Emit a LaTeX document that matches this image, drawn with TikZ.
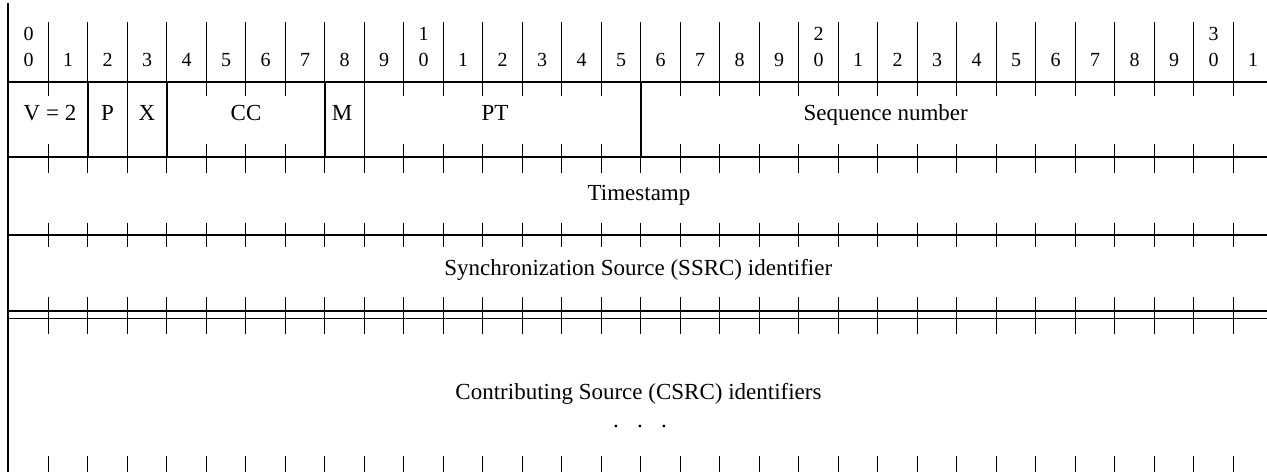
\documentclass[tikz,border=0pt]{standalone}
\usepackage{fontspec}
\setmainfont{Liberation Serif}
\begin{document}
\begin{tikzpicture}[x=1pt,y=-1pt,
  hline/.style={line width=1.4pt},
  fieldsep/.style={line width=1.4pt},
  tick/.style={line width=0.9pt},
  lbl/.style={font=\fontsize{23}{27}\selectfont, anchor=base, inner sep=0pt},
  hdr/.style={font=\fontsize{20}{24}\selectfont, anchor=base, inner sep=0pt}]
\useasboundingbox (0,0) rectangle (1267,472);
% left border
\draw[line width=1.6pt] (8,3) -- (8,472);
% horizontal lines
\foreach \yy in {82,157,235,311,318.7}
  \draw[hline] (8,\yy) -- (1267,\yy);
% header separators and digits
\foreach \k in {1,...,31}{
  \pgfmathsetmacro\xx{8.8+39.5*\k}
  \draw[tick] (\xx,22) -- (\xx,82);
}
\foreach \k in {0,...,31}{
  \pgfmathsetmacro\xc{8.8+39.5*(\k+0.5)}
  \pgfmathtruncatemacro\lo{mod(\k,10)}
  \node[hdr] (h\k) at (\xc,66.7) {\lo};
}
\foreach \k/\d in {0/0,10/1,20/2,30/3}{
  \pgfmathsetmacro\xc{8.8+39.5*(\k+0.5)}
  \node[hdr] (t\k) at (\xc,40.7) {\d};
}
% row 1 field separators
\foreach \k in {2,3,4,8,9,16}{
  \pgfmathsetmacro\xx{8.8+39.5*\k}
  \draw[fieldsep] (\xx,82) -- (\xx,157);
  \draw[tick] (\xx,157) -- (\xx,172.7);
}
% row 1 ticks
\foreach \k in {1,5,6,7,10,11,12,13,14,15,17,18,19,20,21,22,23,24,25,26,27,28,29,30,31}{
  \pgfmathsetmacro\xx{8.8+39.5*\k}
  \draw[tick] (\xx,82) -- (\xx,95.7);
  \draw[tick] (\xx,144) -- (\xx,172.7);
}
% other ticks
\foreach \k in {1,...,31}{
  \pgfmathsetmacro\xx{8.8+39.5*\k}
  \draw[tick] (\xx,222.7) -- (\xx,247.3);
  \draw[tick] (\xx,296.7) -- (\xx,334.3);
  \draw[tick] (\xx,456) -- (\xx,472);
}
% labels
\node[lbl] (v) at (50,120) {V = 2};
\node[lbl] (p) at (107.5,120) {P};
\node[lbl] (x) at (147,120) {X};
\node[lbl] (cc) at (246,120) {CC};
\node[lbl] (m) at (342,120) {M};
\node[lbl] (pt) at (495,120) {PT};
\node[lbl] (seq) at (885.7,120) {Sequence number};
\node[lbl] (ts) at (639,200) {Timestamp};
\node[lbl] (ssrc) at (638.3,275) {Synchronization Source (SSRC) identifier};
\node[lbl] (csrc) at (638.5,399) {Contributing Source (CSRC) identifiers};
\node[lbl] (dots) at (640,427) {.\hspace{18.25pt}.\hspace{18.25pt}.};
\end{tikzpicture}
\end{document}
